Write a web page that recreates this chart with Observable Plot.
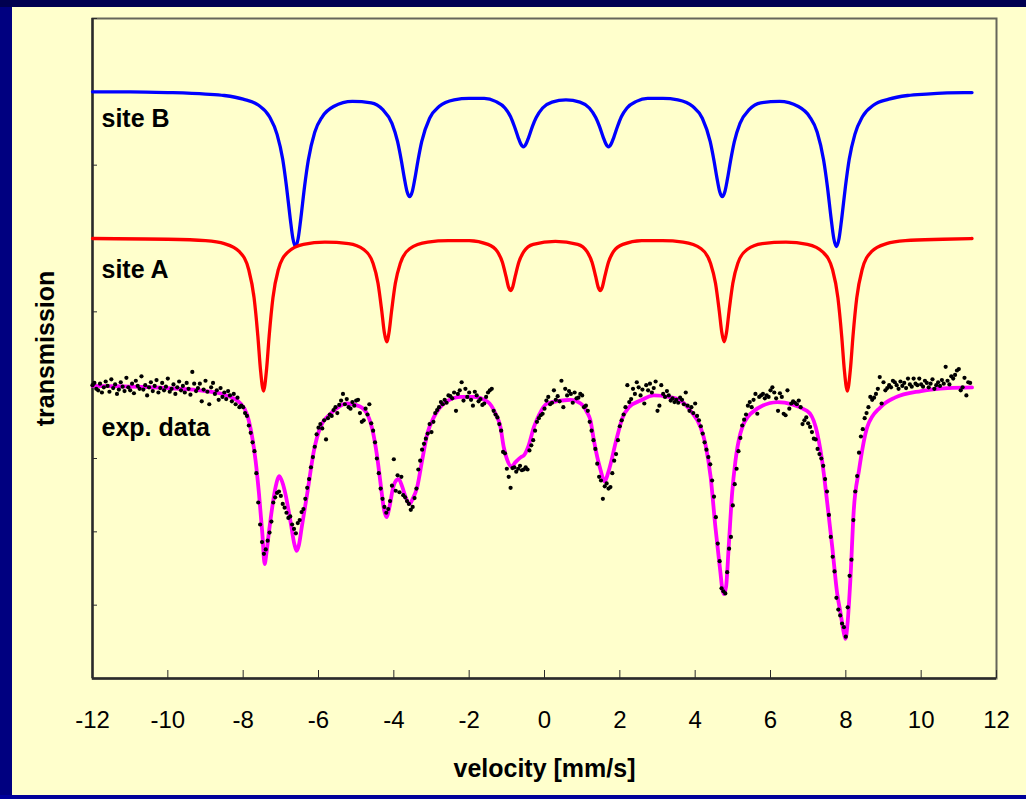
<!DOCTYPE html>
<html><head><meta charset="utf-8">
<script src="https://cdn.jsdelivr.net/npm/d3@7"></script>
<script src="https://cdn.jsdelivr.net/npm/@observablehq/plot@0.6"></script>
<style>
html,body{margin:0;padding:0;}
body{width:1026px;height:799px;background:#000080;position:relative;overflow:hidden;font-family:"Liberation Sans",Arial,sans-serif;}
#topband{position:absolute;left:0;top:0;width:1026px;height:7px;background:#000050;}
#bottomband{position:absolute;left:0;top:795px;width:1026px;height:4px;background:#00009a;}
#chart{position:absolute;left:12px;top:7px;width:1014px;height:788px;background:#ffffcc;}
</style></head><body>
<div id="topband"></div><div id="chart"></div><div id="bottomband"></div>
<script>
// axis
const xDomain = [-12, 12];
const yDomain = [0, 9];
const xTicks = [-12,-10,-8,-6,-4,-2,0,2,4,6,8,10,12];
const yTicks = [0,1,2,3,4,5,6,7,8,9];
const xTitle = "velocity [mm/s]";
const yTitle = "transmission";
const seriesNames = ["site B", "site A", "exp. data"];

// site B fit (velocity mm/s, transmission a.u.)
const blueV = [-12,-11,-10,-9,-8.5,-8,-7.6,-7.3,-7.1,-6.95,-6.85,-6.75,-6.68,-6.61,-6.54,-6.47,-6.37,-6.27,-6.1,-5.9,-5.6,-5.1,-4.6,-4.3,-4.05,-3.9,-3.8,-3.72,-3.65,-3.58,-3.51,-3.44,-3.36,-3.26,-3.05,-2.8,-2.4,-2.0,-1.6,-1.3,-1.05,-0.9,-0.8,-0.7,-0.63,-0.56,-0.49,-0.42,-0.32,-0.22,-0.05,0.2,0.57,0.94,1.19,1.36,1.46,1.56,1.63,1.70,1.77,1.84,1.94,2.04,2.19,2.44,2.74,3.14,3.54,3.94,4.19,4.40,4.50,4.58,4.65,4.72,4.79,4.86,4.94,5.04,5.19,5.44,5.74,6.24,6.74,7.04,7.24,7.41,7.51,7.61,7.68,7.75,7.82,7.89,7.99,8.09,8.24,8.44,8.74,9.14,9.64,10.14,11.14,11.35];
const blueT = [8.00,8.00,7.99,7.97,7.95,7.90,7.82,7.66,7.42,7.08,6.71,6.27,6.00,5.89,6.00,6.27,6.71,7.07,7.45,7.66,7.80,7.87,7.85,7.76,7.57,7.32,7.06,6.82,6.64,6.57,6.64,6.82,7.06,7.32,7.64,7.80,7.89,7.91,7.91,7.87,7.78,7.66,7.53,7.38,7.29,7.25,7.29,7.38,7.53,7.65,7.78,7.86,7.89,7.86,7.78,7.65,7.53,7.38,7.29,7.25,7.29,7.38,7.53,7.66,7.78,7.87,7.91,7.91,7.89,7.80,7.64,7.32,7.06,6.82,6.64,6.57,6.64,6.82,7.06,7.32,7.57,7.76,7.85,7.87,7.80,7.66,7.45,7.07,6.71,6.27,6.00,5.89,6.00,6.27,6.71,7.08,7.42,7.66,7.82,7.90,7.95,7.97,7.99,7.99];

// site A fit
const redV = [-12,-10,-9,-8.5,-8.1,-7.85,-7.71,-7.61,-7.54,-7.46,-7.38,-7.31,-7.21,-7.07,-6.82,-6.4,-5.83,-5.2,-4.8,-4.55,-4.42,-4.32,-4.25,-4.19,-4.13,-4.06,-3.96,-3.83,-3.58,-3.1,-2.55,-2.0,-1.5,-1.25,-1.12,-1.02,-0.95,-0.90,-0.85,-0.78,-0.68,-0.55,-0.3,0.29,0.88,1.13,1.26,1.36,1.43,1.48,1.53,1.60,1.70,1.83,2.08,2.58,3.13,3.68,4.16,4.41,4.54,4.64,4.71,4.77,4.83,4.90,5.00,5.13,5.38,5.78,6.41,6.98,7.40,7.65,7.79,7.89,7.96,8.04,8.12,8.19,8.29,8.43,8.68,9.08,9.58,10.58,11.35];
const redT = [6.00,5.99,5.97,5.93,5.82,5.57,5.19,4.67,4.21,3.92,4.21,4.67,5.19,5.57,5.81,5.92,5.95,5.93,5.85,5.66,5.39,5.01,4.71,4.59,4.71,5.01,5.39,5.66,5.86,5.95,5.97,5.97,5.92,5.82,5.68,5.48,5.33,5.29,5.33,5.48,5.68,5.82,5.92,5.96,5.92,5.82,5.68,5.48,5.33,5.29,5.33,5.48,5.68,5.82,5.92,5.97,5.97,5.95,5.86,5.66,5.39,5.01,4.71,4.59,4.71,5.01,5.39,5.66,5.85,5.93,5.95,5.92,5.81,5.57,5.19,4.67,4.21,3.92,4.21,4.67,5.19,5.57,5.82,5.93,5.97,5.99,6.00];

// total fit
const fitV = [-12,-11,-10,-9,-8.5,-8.07,-7.89,-7.76,-7.67,-7.58,-7.49,-7.43,-7.38,-7.32,-7.27,-7.14,-7.04,-6.95,-6.88,-6.74,-6.64,-6.58,-6.52,-6.44,-6.30,-6.12,-5.95,-5.68,-5.24,-4.9,-4.7,-4.55,-4.45,-4.35,-4.26,-4.19,-4.12,-4.02,-3.92,-3.87,-3.78,-3.68,-3.58,-3.50,-3.38,-3.25,-3.11,-2.94,-2.67,-2.23,-1.9,-1.5,-1.30,-1.17,-1.08,-0.99,-0.88,-0.77,-0.62,-0.55,-0.42,-0.28,-0.15,0.07,0.69,0.96,1.13,1.22,1.31,1.40,1.49,1.59,1.71,1.80,1.88,1.97,2.06,2.24,2.55,2.90,3.3,3.61,3.88,4.14,4.27,4.41,4.54,4.67,4.72,4.76,4.82,4.89,4.98,5.07,5.20,5.47,6.18,6.97,7.20,7.37,7.51,7.64,7.77,7.86,7.94,7.99,8.05,8.12,8.21,8.35,8.57,8.92,9.3,10,10.7,11.35];
const fitT = [3.99,3.98,3.96,3.92,3.87,3.75,3.59,3.29,2.97,2.52,1.97,1.56,1.72,1.98,2.18,2.61,2.76,2.66,2.52,2.13,1.83,1.74,1.82,2.08,2.52,3.11,3.43,3.61,3.75,3.71,3.60,3.35,3.05,2.65,2.30,2.20,2.33,2.60,2.71,2.72,2.62,2.46,2.38,2.45,2.61,2.97,3.34,3.56,3.75,3.84,3.84,3.77,3.61,3.43,3.15,2.98,2.89,2.95,3.02,3.04,3.18,3.43,3.59,3.75,3.80,3.75,3.63,3.52,3.25,3.02,2.84,2.69,2.84,3.02,3.20,3.38,3.54,3.70,3.79,3.86,3.84,3.79,3.65,3.43,3.20,2.75,2.05,1.45,1.22,1.15,1.25,1.79,2.52,2.97,3.34,3.61,3.77,3.65,3.43,2.97,2.38,1.79,1.16,0.89,0.64,0.54,0.78,1.34,2.29,2.84,3.43,3.70,3.83,3.92,3.96,3.97];

// measured spectrum
const expV = [
-12,-11.95,-11.9,-11.85,-11.8,-11.75,-11.7,-11.65,-11.6,-11.55,-11.5,-11.45,-11.4,-11.35,-11.3,-11.25,-11.2,-11.15,-11.1,-11.05,
-11,-10.95,-10.9,-10.85,-10.8,-10.75,-10.7,-10.65,-10.6,-10.55,-10.5,-10.45,-10.4,-10.35,-10.3,-10.25,-10.2,-10.15,-10.1,-10.05,
-10,-9.95,-9.9,-9.85,-9.8,-9.75,-9.7,-9.65,-9.6,-9.55,-9.5,-9.45,-9.4,-9.35,-9.3,-9.25,-9.2,-9.15,-9.1,-9.05,
-9,-8.95,-8.9,-8.85,-8.8,-8.75,-8.7,-8.65,-8.6,-8.55,-8.5,-8.45,-8.4,-8.35,-8.3,-8.25,-8.2,-8.15,-8.1,-8.05,
-8,-7.95,-7.9,-7.85,-7.8,-7.75,-7.7,-7.65,-7.6,-7.55,-7.5,-7.45,-7.4,-7.35,-7.3,-7.25,-7.2,-7.15,-7.1,-7.05,
-7,-6.95,-6.9,-6.85,-6.8,-6.75,-6.7,-6.65,-6.6,-6.55,-6.5,-6.45,-6.4,-6.35,-6.3,-6.25,-6.2,-6.15,-6.1,-6.05,
-6,-5.95,-5.9,-5.85,-5.8,-5.75,-5.7,-5.65,-5.6,-5.55,-5.5,-5.45,-5.4,-5.35,-5.3,-5.25,-5.2,-5.15,-5.1,-5.05,
-5,-4.95,-4.9,-4.85,-4.8,-4.75,-4.7,-4.65,-4.6,-4.55,-4.5,-4.45,-4.4,-4.35,-4.3,-4.25,-4.2,-4.15,-4.1,-4.05,
-4,-3.95,-3.9,-3.85,-3.8,-3.75,-3.7,-3.65,-3.6,-3.55,-3.5,-3.45,-3.4,-3.35,-3.3,-3.25,-3.2,-3.15,-3.1,-3.05,
-3,-2.95,-2.9,-2.85,-2.8,-2.75,-2.7,-2.65,-2.6,-2.55,-2.5,-2.45,-2.4,-2.35,-2.3,-2.25,-2.2,-2.15,-2.1,-2.05,
-2,-1.95,-1.9,-1.85,-1.8,-1.75,-1.7,-1.65,-1.6,-1.55,-1.5,-1.45,-1.4,-1.35,-1.3,-1.25,-1.2,-1.15,-1.1,-1.05,
-1,-0.95,-0.9,-0.85,-0.8,-0.75,-0.7,-0.65,-0.6,-0.55,-0.5,-0.45,-0.4,-0.35,-0.3,-0.25,-0.2,-0.15,-0.1,-0.05,
0,0.05,0.1,0.15,0.2,0.25,0.3,0.35,0.4,0.45,0.5,0.55,0.6,0.65,0.7,0.75,0.8,0.85,0.9,0.95,
1,1.05,1.1,1.15,1.2,1.25,1.3,1.35,1.4,1.45,1.5,1.55,1.6,1.65,1.7,1.75,1.8,1.85,1.9,1.95,
2,2.05,2.1,2.15,2.2,2.25,2.3,2.35,2.4,2.45,2.5,2.55,2.6,2.65,2.7,2.75,2.8,2.85,2.9,2.95,
3,3.05,3.1,3.15,3.2,3.25,3.3,3.35,3.4,3.45,3.5,3.55,3.6,3.65,3.7,3.75,3.8,3.85,3.9,3.95,
4,4.05,4.1,4.15,4.2,4.25,4.3,4.35,4.4,4.45,4.5,4.55,4.6,4.65,4.7,4.75,4.8,4.85,4.9,4.95,
5,5.05,5.1,5.15,5.2,5.25,5.3,5.35,5.4,5.45,5.5,5.55,5.6,5.65,5.7,5.75,5.8,5.85,5.9,5.95,
6,6.05,6.1,6.15,6.2,6.25,6.3,6.35,6.4,6.45,6.5,6.55,6.6,6.65,6.7,6.75,6.8,6.85,6.9,6.95,
7,7.05,7.1,7.15,7.2,7.25,7.3,7.35,7.4,7.45,7.5,7.55,7.6,7.65,7.7,7.75,7.8,7.85,7.9,7.95,
8,8.05,8.1,8.15,8.2,8.25,8.3,8.35,8.4,8.45,8.5,8.55,8.6,8.65,8.7,8.75,8.8,8.85,8.9,8.95,
9,9.05,9.1,9.15,9.2,9.25,9.3,9.35,9.4,9.45,9.5,9.55,9.6,9.65,9.7,9.75,9.8,9.85,9.9,9.95,
10,10.05,10.1,10.15,10.2,10.25,10.3,10.35,10.4,10.45,10.5,10.55,10.6,10.65,10.7,10.75,10.8,10.85,10.9,10.95,
11,11.05,11.1,11.15,11.2,11.25,11.3];
const expT = [
4.00,4.03,3.95,3.93,4.02,3.90,3.97,4.05,3.99,3.91,4.08,3.96,4.01,3.88,3.94,4.04,3.98,3.92,4.10,3.97,
3.93,4.02,3.89,4.06,3.99,3.95,4.12,3.94,4.00,3.86,3.97,4.04,3.92,3.99,4.07,3.90,3.96,4.03,3.93,3.98,
4.09,3.91,3.95,4.01,3.88,3.97,4.05,3.93,3.99,3.90,4.03,3.95,3.87,4.18,4.02,3.92,3.96,4.02,3.78,3.94,
4.06,3.91,3.74,3.97,4.03,3.88,3.93,3.80,3.96,3.84,3.90,3.81,3.92,3.86,3.78,3.88,3.74,3.83,3.70,3.72,
3.70,3.62,3.58,3.45,3.35,3.22,3.10,2.80,2.40,2.10,1.86,1.70,1.76,1.88,1.99,2.14,2.40,2.47,2.53,2.55,
2.49,2.38,2.33,2.26,2.19,2.21,2.10,2.04,1.98,2.12,2.16,2.27,2.31,2.45,2.60,2.72,2.88,3.02,3.16,3.33,
3.42,3.47,3.41,3.52,3.26,3.55,3.60,3.58,3.66,3.70,3.62,3.73,3.79,3.88,3.74,3.81,3.70,3.68,3.77,3.72,
3.79,3.80,3.62,3.50,3.52,3.68,3.60,3.74,3.48,3.38,3.22,3.00,2.80,2.59,2.45,2.34,2.26,2.31,2.42,2.63,
2.99,2.56,2.77,2.54,2.75,2.50,2.47,2.42,2.38,2.30,2.34,2.46,2.59,2.85,2.97,3.12,3.20,3.27,3.34,3.47,
3.36,3.50,3.62,3.66,3.70,3.77,3.74,3.80,3.76,3.86,3.85,3.82,3.90,3.65,3.88,3.93,4.04,3.79,3.95,3.84,
3.90,3.80,3.72,3.91,3.86,3.78,3.81,3.73,3.75,3.84,3.90,3.93,3.95,3.65,3.60,3.56,3.47,3.38,3.09,3.07,
2.86,2.75,2.60,2.87,2.88,2.82,2.86,2.90,2.84,2.85,2.88,2.85,3.11,3.18,3.25,3.38,3.50,3.55,3.59,3.61,
3.68,3.79,3.84,3.74,3.76,3.93,3.80,3.85,3.78,4.06,3.70,3.95,3.86,3.92,3.88,3.76,3.90,3.82,3.83,3.88,
3.86,3.70,3.72,3.65,3.50,3.38,3.25,3.13,2.93,2.75,2.70,2.45,2.62,2.66,2.59,2.61,2.80,2.97,3.06,3.25,
3.44,3.52,3.60,3.70,4.00,3.77,3.81,3.95,3.88,4.04,3.97,3.86,3.94,3.75,4.00,3.93,4.02,3.90,3.96,4.05,
3.65,3.72,4.00,3.88,3.84,3.92,3.86,3.79,3.82,3.77,3.80,3.76,3.83,3.80,3.74,3.90,3.72,3.65,3.70,3.62,
3.75,3.58,3.52,3.44,3.34,3.22,3.12,3.02,2.92,2.70,2.48,2.20,1.84,1.60,1.23,1.19,1.16,1.45,1.77,1.93,
2.36,2.65,2.86,3.10,3.28,3.45,3.53,3.60,3.72,3.77,3.70,3.80,3.88,3.61,3.84,3.86,3.88,3.82,3.86,3.84,
3.93,3.97,3.90,3.82,3.65,3.89,3.84,3.61,3.59,3.93,3.68,3.75,3.78,3.76,3.74,3.79,3.70,3.47,3.52,3.56,
3.48,3.43,3.36,3.27,3.26,3.13,3.06,3.00,2.90,2.72,2.55,2.23,1.93,1.66,1.46,1.10,0.94,0.86,0.75,0.70,
0.57,0.97,1.40,1.62,2.16,2.55,2.76,3.08,3.30,3.40,3.55,3.62,3.70,3.84,3.80,3.83,3.88,3.95,4.11,3.75,
4.04,3.93,3.96,4.00,3.97,4.06,4.04,4.00,3.95,4.05,3.99,4.03,3.96,4.09,4.01,3.98,4.09,4.02,4.00,4.09,
4.01,3.98,4.06,4.03,3.97,4.02,4.08,3.95,4.00,4.04,3.99,4.07,4.02,4.25,4.06,4.01,4.12,4.09,4.14,4.20,
4.22,3.93,3.97,4.10,3.86,4.04,4.03];

const font = "'Liberation Sans', Arial, Helvetica, sans-serif";
const labelStyle = {fontWeight: "bold", fontSize: 25, fill: "black", textAnchor: "start", lineAnchor: "bottom", dx: 9};

const chart = Plot.plot({
  width: 1014, height: 788,
  marginLeft: 80, marginRight: 30, marginTop: 11, marginBottom: 117,
  x: {domain: xDomain},
  y: {domain: yDomain},
  style: {background: "#ffffcc", fontFamily: font, fontSize: "24px", color: "black"},
  marks: [
    Plot.frame({stroke: "#66665a", strokeWidth: 2}),
    Plot.ruleX([xDomain[0]], {stroke: "#2a2a2a", strokeWidth: 2.4}),
    Plot.ruleY([yDomain[0]], {stroke: "#2a2a2a", strokeWidth: 2.4}),
    Plot.axisX({ticks: xTicks, tickSize: 8, dy: -8, tickPadding: 32, tickFormat: d => String(d), label: null, stroke: "#2a2a2a", fill: "black", fontSize: 24}),
    Plot.axisY({ticks: yTicks, tickSize: 5, dx: 5, tickFormat: () => "", label: null, stroke: "#2a2a2a"}),
    Plot.line(blueT, {x: blueV, y: blueT, stroke: "#0000ff", strokeWidth: 3.3, curve: "monotone-x"}),
    Plot.line(redT, {x: redV, y: redT, stroke: "#ff0000", strokeWidth: 3.3, curve: "monotone-x"}),
    Plot.line(fitT, {x: fitV, y: fitT, stroke: "#ff00ff", strokeWidth: 3.8, curve: "monotone-x"}),
    Plot.dot(expT, {x: expV, y: expT, r: 2.1, fill: "black"}),
    Plot.text([seriesNames[0]], {x: blueV[0], y: blueT[0], dy: 35, ...labelStyle}),
    Plot.text([seriesNames[1]], {x: redV[0], y: redT[0], dy: 39, ...labelStyle}),
    Plot.text([seriesNames[2]], {x: expV[0], y: fitT[0], dy: 50, ...labelStyle}),
    Plot.text([xTitle], {frameAnchor: "bottom", textAnchor: "middle", dy: 98, lineAnchor: "bottom", fontWeight: "bold", fontSize: 25, fill: "black"}),
    Plot.text([yTitle], {frameAnchor: "left", textAnchor: "middle", dx: -47, rotate: -90, lineAnchor: "middle", fontWeight: "bold", fontSize: 25, fill: "black"})
  ]
});
document.getElementById("chart").appendChild(chart);
</script>
</body></html>
